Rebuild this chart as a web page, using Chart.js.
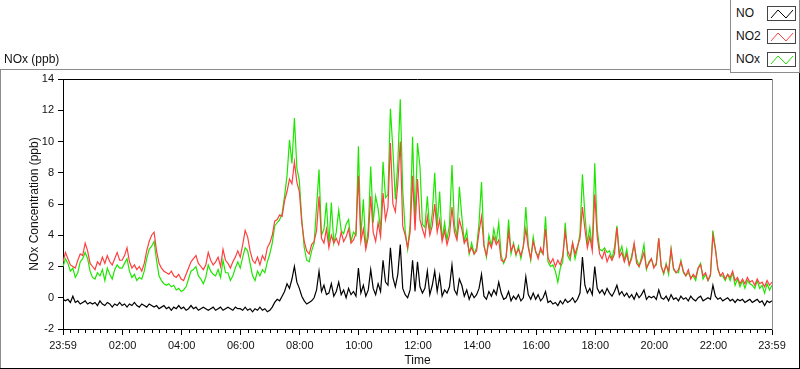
<!DOCTYPE html>
<html>
<head>
<meta charset="utf-8">
<script src="https://cdn.jsdelivr.net/npm/chart.js@4.4.1/dist/chart.umd.min.js"></script>
<style>
  body { margin: 0; background: #fff; font-family: "Liberation Sans", Arial, sans-serif; }
  #wrap { position: relative; width: 800px; height: 369px; }
  #title { position: absolute; left: 4px; top: 52px; font-size: 12px; line-height: 14px; color: #111; }
  #legend { position: absolute; left: 730px; top: 0; width: 70px; height: 73px; box-sizing: border-box;
            border: 1px solid #8c8c8c; border-top: none; background: #fff; }
  .row { position: absolute; left: 0; width: 68px; height: 14px; }
  .row span { position: absolute; left: 5px; top: 0; font-size: 12px; line-height: 14px; color: #111; }
  .row svg { position: absolute; left: 36px; top: 0; }
</style>
</head>
<body>
<div id="wrap">
  <canvas id="chart" width="800" height="369"></canvas>
  <div id="title">NOx (ppb)</div>
  <div id="legend"></div>
</div>
<script>
// 5 minute samples from 23:59 to 23:59, one hour per line
const NO = [
  -0.1, -0.2, -0.1, -0.3, 0.1, -0.3, -0.2, -0.4, -0.3, -0.2, -0.4, -0.3,
  -0.4, -0.3, -0.5, -0.2, -0.4, -0.5, -0.3, -0.4, -0.6, -0.4, -0.5, -0.3,
  -0.5, -0.4, -0.6, -0.4, -0.5, -0.3, -0.5, -0.6, -0.4, -0.5, -0.6, -0.4,
  -0.5, -0.6, -0.5, -0.7, -0.6, -0.5, -0.7, -0.6, -0.8, -0.6, -0.7, -0.5,
  -0.7, -0.6, -0.8, -0.7, -0.5, -0.7, -0.6, -0.8, -0.7, -0.6, -0.7, -0.8,
  -0.7, -0.6, -0.8, -0.7, -0.6, -0.8, -0.7, -0.6, -0.7, -0.8, -0.6, -0.7,
  -0.7, -0.8, -0.6, -0.8, -0.7, -0.9, -0.7, -0.8, -0.6, -0.8, -0.7, -0.9,
  -0.8, -0.6, -0.3, -0.1, -0.2, 0.1, 0.4, 0.9, 0.6, 1.2, 2.0, 1.0,
  0.6, 0.1, -0.2, -0.4, -0.3, -0.2, 0.0, 0.5, 1.7, 0.4, 0.8, 0.2,
  0.3, 0.9, 0.1, 0.4, 1.0, 0.2, 0.5, 0.0, 0.6, 0.2, 0.4, 0.1,
  1.9, 0.3, 0.8, 0.1, 0.5, 1.8, 0.6, 0.2, 0.9, 0.4, 2.4, 1.0,
  0.8, 3.2, 1.3, 0.7, 1.5, 3.4, 0.6, 0.2, 0.0, 0.5, 2.4, 0.4,
  2.3, 0.7, 0.3, 0.6, 1.7, 0.2, 0.8, 1.7, 0.4, 1.4, 0.1, 0.5,
  0.3, 0.7, 2.1, 0.5, 0.2, 1.2, 0.8, 0.1, 0.5, -0.1, 0.3, 0.0,
  0.2, 0.6, 1.5, 0.1, -0.1, 0.4, 0.1, 0.5, 0.2, 1.0, 0.3, -0.1,
  0.0, 0.4, -0.2, 0.1, -0.1, 0.2, -0.2, 0.0, 1.35, 0.2, -0.1, 0.3,
  -0.1, 0.2, -0.2, 0.0, 0.4, -0.3, -0.2, -0.4, -0.3, -0.5, -0.2, -0.4,
  -0.1, -0.3, -0.2, 0.0, -0.3, -0.1, 0.3, 2.6, 0.8, 0.3, 0.6, 0.2,
  2.0, 0.6, 0.3, 0.5, 0.2, 0.6, 0.3, 0.1, 0.4, 0.8, 0.2, 0.4,
  0.1, 0.3, 0.0, 0.2, -0.1, 0.3, 0.0, 0.2, 0.5, -0.1, 0.1, 0.0,
  0.1, -0.1, 0.5, 0.0, -0.1, 0.1, -0.2, 0.2, -0.1, 0.0, -0.2, 0.1,
  -0.1, 0.0, -0.2, 0.1, -0.1, -0.2, 0.0, 0.1, -0.2, -0.1, 0.0, -0.1,
  0.8, 0.1, -0.1, 0.0, -0.2, -0.1, 0.0, -0.2, -0.1, -0.3, -0.1, -0.2,
  -0.1, -0.3, -0.2, -0.1, -0.3, -0.2, -0.1, -0.3, -0.2, -0.5, -0.2, -0.3,
  -0.2
];

const NO2 = [
  2.3, 2.9, 2.5, 2.1, 2.0, 1.9, 2.4, 2.8, 2.7, 3.5, 3.0, 2.2,
  2.0, 1.8, 2.3, 2.1, 2.6, 2.2, 2.7, 2.3, 2.1, 2.5, 2.9, 2.4,
  2.4, 2.7, 3.2, 2.3, 1.9, 2.1, 1.8, 2.0, 1.7, 2.2, 3.0, 3.6,
  4.0, 4.2, 3.0, 2.2, 1.9, 1.7, 1.6, 1.5, 1.7, 1.4, 1.3, 1.5,
  1.2, 1.1, 1.5, 1.9, 2.3, 2.5, 2.7, 2.2, 2.0, 1.8, 2.1, 2.9,
  2.4, 2.1, 2.3, 2.6, 2.0, 3.1, 2.4, 2.2, 1.9, 2.3, 2.6, 3.0,
  2.6, 3.4, 4.3, 3.9, 3.0, 2.4, 2.2, 2.6, 2.1, 2.7, 2.4, 3.2,
  3.5, 4.0, 4.9, 5.0, 5.3, 5.2, 6.2, 6.8, 7.6, 7.3, 8.7, 7.4,
  6.8, 4.8, 3.6, 3.0, 2.8, 3.4, 3.6, 4.3, 6.5, 3.8, 3.5, 4.4,
  3.2, 4.0, 3.5, 3.8, 3.4, 4.2, 3.6, 3.9, 4.4, 3.5, 3.7, 4.1,
  7.8, 3.6, 4.4, 3.1, 3.9, 6.5, 4.2, 3.6, 4.8, 3.9, 6.7, 5.0,
  5.8, 9.9, 6.0, 5.5, 7.3, 10.0, 4.6, 4.0, 3.2, 4.2, 7.8, 4.3,
  7.6, 5.0, 4.4, 3.9, 5.2, 4.0, 4.6, 6.0, 4.2, 5.0, 3.6, 4.3,
  3.4, 4.0, 5.8, 4.2, 3.7, 5.0, 4.4, 3.5, 3.8, 2.9, 3.2, 2.8,
  3.0, 4.2, 5.2, 3.3, 2.7, 3.6, 3.2, 3.9, 3.4, 3.7, 2.4, 2.3,
  2.6, 4.2, 3.0, 3.4, 2.8, 3.1, 2.7, 3.3, 4.4, 3.2, 2.5, 3.6,
  3.0, 2.5, 3.2, 2.8, 4.4, 2.6, 2.2, 2.5, 2.0, 2.4, 2.1, 2.7,
  4.2, 3.0, 2.6, 3.5, 2.8, 3.3, 3.8, 5.8, 4.4, 3.2, 3.9, 3.0,
  6.6, 3.9, 2.8, 2.5, 3.0, 2.3, 2.7, 2.4, 2.8, 4.5, 2.6, 2.9,
  2.3, 2.8, 2.1, 2.5, 3.5, 2.2, 2.0, 2.4, 2.9, 1.9, 2.2, 2.5,
  1.9, 2.2, 3.8, 2.0, 1.6, 2.1, 1.7, 3.1, 1.9, 1.6, 1.8, 2.3,
  1.7, 1.4, 1.8, 1.2, 1.5, 1.3, 1.9, 2.1, 1.4, 1.6, 1.1, 1.5,
  4.0, 3.1, 1.9, 1.4, 1.6, 1.2, 1.5, 1.3, 1.7, 1.1, 1.3, 0.9,
  1.2, 0.9, 1.3, 1.0, 1.1, 0.8, 1.2, 0.9, 1.0, 0.7, 1.1, 0.8,
  1.0
];

const NOx = [
  2.0, 2.5, 2.2, 1.7, 1.9, 1.3, 1.6, 2.3, 2.5, 2.9, 2.5, 1.7,
  1.3, 1.2, 1.6, 1.4, 1.8, 1.1, 1.9, 1.5, 1.2, 1.8, 2.1, 1.9,
  1.9, 2.2, 2.5, 1.7, 1.3, 1.5, 1.1, 1.3, 1.2, 1.7, 2.5, 3.1,
  3.3, 3.6, 2.4, 1.4, 1.1, 0.9, 0.8, 0.9, 0.7, 0.8, 0.5, 0.6,
  0.4, 0.5, 0.7, 1.2, 1.7, 1.8, 2.0, 1.4, 1.2, 0.9, 1.3, 2.1,
  1.7, 1.5, 1.4, 1.8, 1.3, 2.4, 1.6, 1.6, 1.1, 1.4, 1.9, 2.3,
  1.9, 2.6, 3.2, 3.0, 2.2, 1.4, 1.1, 1.7, 1.4, 1.8, 1.6, 2.3,
  2.8, 3.5, 4.6, 4.8, 5.0, 5.4, 6.5, 7.8, 10.1, 8.6, 11.5, 8.3,
  7.5, 5.0, 3.2, 2.4, 2.3, 3.0, 3.5, 5.8, 8.2, 4.0, 4.4, 6.1,
  3.4, 6.1, 3.5, 4.2, 5.6, 4.3, 4.1, 4.7, 5.0, 3.6, 4.2, 4.0,
  9.7, 3.9, 6.3, 3.2, 4.4, 8.4, 4.8, 6.5, 5.7, 4.3, 8.7, 6.4,
  6.6, 12.1, 9.5, 6.3, 8.6, 12.7, 6.9, 4.3, 3.1, 4.7, 10.3, 4.8,
  9.9, 8.4, 4.7, 4.5, 6.5, 4.2, 5.4, 8.0, 4.6, 6.8, 3.7, 4.8,
  3.7, 4.7, 8.5, 4.7, 3.9, 7.1, 5.2, 3.6, 4.3, 2.8, 3.5, 2.8,
  3.2, 4.8, 7.4, 3.4, 2.6, 4.0, 3.3, 4.4, 3.6, 4.8, 2.7, 2.2,
  2.6, 5.0, 2.8, 3.5, 2.7, 3.3, 2.5, 3.3, 5.8, 3.4, 2.4, 3.9,
  2.9, 2.7, 3.0, 2.8, 5.2, 2.3, 2.0, 2.1, 1.7, 1.0, 1.9, 2.3,
  4.8, 2.7, 2.4, 3.5, 2.5, 3.2, 4.1, 7.9, 5.3, 3.5, 4.5, 3.2,
  8.6, 4.4, 3.1, 3.0, 3.2, 2.9, 3.0, 2.5, 3.2, 4.6, 2.8, 3.3,
  2.4, 3.1, 2.1, 2.7, 3.4, 2.5, 2.0, 2.6, 3.4, 1.8, 2.3, 2.5,
  2.0, 2.1, 3.8, 2.0, 1.5, 2.2, 1.5, 3.1, 1.8, 1.6, 1.6, 2.4,
  1.6, 1.4, 1.6, 1.3, 1.4, 1.1, 1.9, 2.2, 1.2, 1.5, 1.1, 1.4,
  4.3, 3.2, 1.8, 1.4, 1.4, 1.1, 1.5, 1.1, 1.6, 0.8, 1.2, 0.7,
  1.1, 0.6, 1.1, 0.9, 0.8, 0.6, 1.1, 0.6, 0.8, 0.3, 0.9, 0.5,
  0.8
];

const timeLabels = ['23:59', '02:00', '04:00', '06:00', '08:00', '10:00', '12:00',
                    '14:00', '16:00', '18:00', '20:00', '22:00', '23:59'];

const STEP = 5;        // minutes between samples
const DAY = 1440;      // minutes shown on the x axis

function toPoints(arr) {
    return arr.map((v, i) => ({ x: i * STEP, y: v }));
}

// 23:59 is 0, every clock hour h after that is h*60+1
function isMajor(v) {
    return v === 0 || v === DAY || (v - 1) % 120 === 0;
}
function labelFor(v) {
    if (v === 0) return timeLabels[0];
    if (v === DAY) return timeLabels[timeLabels.length - 1];
    return timeLabels[(v - 1) / 120];
}

const frame = {
    id: 'frame',
    beforeDraw(chart) {
        const ctx = chart.ctx;
        ctx.save();
        ctx.fillStyle = '#fff';
        ctx.fillRect(0, 0, chart.width, chart.height);
        ctx.lineWidth = 1;
        ctx.strokeStyle = '#8c8c8c';
        ctx.beginPath();
        ctx.moveTo(0, 69.5); ctx.lineTo(730, 69.5);
        ctx.moveTo(0.5, 69); ctx.lineTo(0.5, 369);
        ctx.stroke();
        ctx.strokeStyle = '#000';
        ctx.beginPath();
        ctx.moveTo(0, 368.5); ctx.lineTo(800, 368.5);
        ctx.moveTo(799.5, 72); ctx.lineTo(799.5, 369);
        ctx.stroke();
        ctx.restore();
    },
    afterDraw(chart) {
        const { left, right, top, bottom } = chart.chartArea;
        const ctx = chart.ctx;
        ctx.save();
        ctx.lineWidth = 1;
        ctx.strokeStyle = '#000';
        ctx.beginPath();
        ctx.moveTo(left, top + 0.5); ctx.lineTo(right, top + 0.5);
        ctx.stroke();
        ctx.strokeStyle = '#8c8c8c';
        ctx.beginPath();
        ctx.moveTo(right + 0.5, top); ctx.lineTo(right + 0.5, bottom + 1);
        ctx.stroke();
        ctx.restore();
    }
};

Chart.defaults.font.family = '"Liberation Sans", Arial, sans-serif';
Chart.defaults.color = '#111';

const ctx = document.getElementById('chart').getContext('2d');
const chart = new Chart(ctx, {
    type: 'line',
    data: {
        datasets: [
            { label: 'NO', data: toPoints(NO), borderColor: '#000000' },
            { label: 'NO2', data: toPoints(NO2), borderColor: '#ff4040' },
            { label: 'NOx', data: toPoints(NOx), borderColor: '#1ee600' }
        ]
    },
    options: {
        responsive: false,
        animation: false,
        events: [],
        elements: {
            line: { borderWidth: 1.2, tension: 0 },
            point: { radius: 0 }
        },
        layout: { padding: { top: 79, right: 28, left: 0, bottom: 0 } },
        plugins: {
            legend: { display: false },
            tooltip: { enabled: false }
        },
        scales: {
            x: {
                type: 'linear',
                min: 0,
                max: DAY,
                afterBuildTicks(scale) {
                    const ticks = [{ value: 0 }];
                    for (let v = 16; v < DAY; v += 15) ticks.push({ value: v });
                    ticks.push({ value: DAY });
                    scale.ticks = ticks;
                },
                afterFit(scale) { scale.height = 40; },
                ticks: {
                    autoSkip: false,
                    maxRotation: 0,
                    padding: 4,
                    font: { size: 11 },
                    callback: (v) => isMajor(v) ? labelFor(v) : ''
                },
                grid: {
                    drawOnChartArea: false,
                    tickLength: 6,
                    tickColor: '#000',
                    tickBorderDash: (c) => isMajor(c.tick.value) ? [] : [3, 20]
                },
                border: { color: '#000' },
                title: {
                    display: true,
                    text: 'Time',
                    font: { size: 12 },
                    padding: { top: 0, bottom: 1 }
                }
            },
            y: {
                min: -2,
                max: 14,
                afterFit(scale) { scale.width = 63; },
                ticks: {
                    stepSize: 2,
                    padding: 4,
                    font: { size: 11 }
                },
                grid: {
                    drawOnChartArea: false,
                    tickLength: 5,
                    tickColor: '#000'
                },
                border: { color: '#000' },
                title: {
                    display: true,
                    text: 'NOx Concentration (ppb)',
                    font: { size: 12 },
                    padding: { top: 27, bottom: 0 }
                }
            }
        }
    },
    plugins: [frame]
});

// legend box with a little zigzag swatch per series
const legend = document.getElementById('legend');
chart.data.datasets.forEach((ds, i) => {
    const row = document.createElement('div');
    row.className = 'row';
    row.style.top = (6 + i * 23) + 'px';
    row.innerHTML = '<span>' + ds.label + '</span>' +
        '<svg width="29" height="15"><rect x="0.5" y="0.5" width="28" height="14" fill="#fff" stroke="#444"/>' +
        '<polyline points="4,12 11,4 19,12 26,4" fill="none" stroke="' + ds.borderColor + '" stroke-width="1"/></svg>';
    legend.appendChild(row);
});
</script>
</body>
</html>
